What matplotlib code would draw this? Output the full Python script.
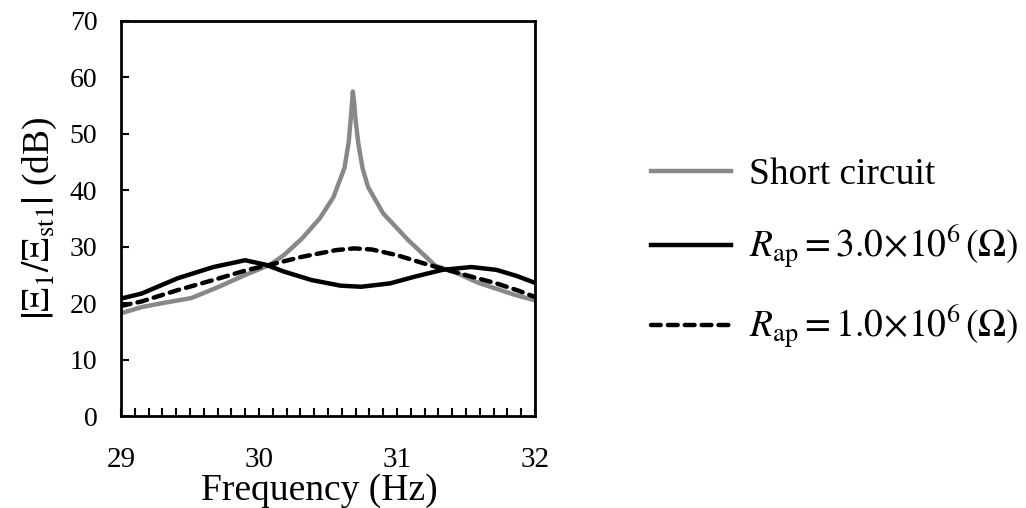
import numpy as np
import matplotlib
matplotlib.use("Agg")
import matplotlib.pyplot as plt
from matplotlib.ticker import MultipleLocator

plt.rcParams["font.family"] = "Liberation Serif"
plt.rcParams["mathtext.fontset"] = "stix"

# ---------------------------
# Data
# ---------------------------
freq_short = [29.0, 29.15, 29.3, 29.51, 29.7, 29.92, 30.08, 30.18, 30.31, 30.44,
              30.54, 30.62, 30.65, 30.67, 30.68, 30.69, 30.70, 30.72, 30.75, 30.79,
              30.9, 31.08, 31.28, 31.41, 31.59, 31.85, 32.0]
db_short = [18.2, 19.3, 20.0, 20.9, 22.8, 25.2, 26.8, 28.5, 31.4, 35.0,
            38.8, 44.0, 48.5, 54.0, 57.5, 55.5, 52.5, 48.3, 44.0, 40.6,
            35.9, 31.2, 26.6, 25.6, 23.6, 21.5, 20.5]

freq_r3 = [29.0, 29.15, 29.41, 29.67, 29.9, 30.05, 30.18, 30.38, 30.59, 30.74,
           30.95, 31.13, 31.33, 31.54, 31.72, 31.87, 32.0]
db_r3 = [20.8, 21.7, 24.4, 26.4, 27.6, 26.8, 25.6, 24.1, 23.1, 22.9,
         23.5, 24.7, 25.9, 26.4, 25.9, 24.8, 23.6]

freq_r1 = [29.0, 29.15, 29.41, 29.67, 29.92, 30.08, 30.31, 30.56, 30.69, 30.82,
           31.0, 31.2, 31.36, 31.54, 31.72, 31.87, 32.0]
db_r1 = [19.5, 20.3, 22.3, 24.1, 25.9, 26.8, 28.2, 29.4, 29.7, 29.5,
         28.5, 27.0, 25.9, 24.7, 23.5, 22.3, 21.1]

labels = ["Short circuit",
          r"$R_{\mathrm{ap}} = 3.0\!\times\!10^{6}\,(\Omega)$",
          r"$R_{\mathrm{ap}} = 1.0\!\times\!10^{6}\,(\Omega)$"]

# ---------------------------
# Plot
# ---------------------------
fig = plt.figure(figsize=(10.26, 5.08), dpi=100)
ax = fig.add_axes([0.1179, 0.1811, 0.4035, 0.7776])

ax.plot(freq_short, db_short, color="#888888", lw=3.2, label=labels[0])
ax.plot(freq_r3, db_r3, color="black", lw=3.2, label=labels[1])
ax.plot(freq_r1, db_r1, color="black", lw=3.2, ls=(0, (2.2, 1.6)),
        dash_capstyle="round", label=labels[2])

ax.set_xlim(29, 32)
ax.set_ylim(0, 70)
ax.xaxis.set_major_locator(MultipleLocator(1))
ax.xaxis.set_minor_locator(MultipleLocator(0.1))
ax.yaxis.set_major_locator(MultipleLocator(10))
ax.tick_params(axis="x", which="both", direction="in", length=6, width=1.5,
               labelsize=21, pad=22)
ax.tick_params(axis="y", which="both", direction="in", length=6, width=1.5,
               labelsize=20, pad=17)
for s in ax.spines.values():
    s.set_linewidth(2.0)

ax.set_xlabel("Frequency (Hz)", fontsize=27)
ax.xaxis.set_label_coords(0.48, -0.145)
ax.set_ylabel(r"$\left|\Xi_{1}/\Xi_{\mathrm{st1}}\right|$ (dB)", fontsize=27)
ax.yaxis.set_label_coords(-0.15, 0.5)

fig.legend(loc="center left", bbox_to_anchor=(0.602, 0.50), frameon=False,
           fontsize=27, handlelength=2.13, handletextpad=0.48, labelspacing=0.84)

fig.savefig("out.png", dpi=100)
